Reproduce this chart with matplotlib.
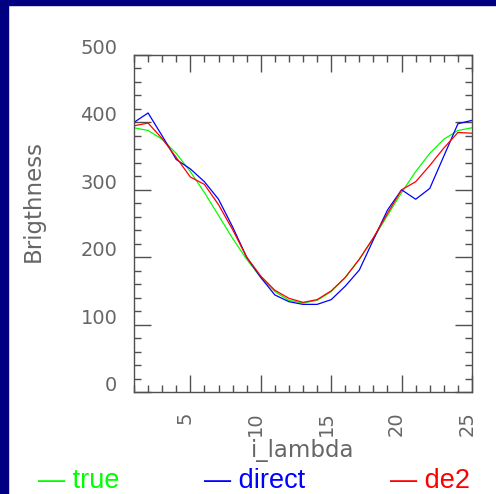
import matplotlib
matplotlib.use("Agg")
import matplotlib.pyplot as plt
from matplotlib.patches import Rectangle
from matplotlib.ticker import MultipleLocator
from matplotlib.transforms import ScaledTranslation

# ---------------------------------------------------------------- data
i_lambda = list(range(1, 26))
true_vals = [392, 388, 375, 354, 327, 296, 262, 228, 197, 170, 149, 136, 132,
             136, 149, 170, 197, 228, 262, 296, 327, 354, 375, 388, 392]
direct_vals = [400, 414, 380, 345, 331, 312, 286, 245, 200, 170, 144, 134, 130,
               130, 137, 157, 181, 226, 270, 300, 286, 302, 350, 398, 403]
de2_vals = [395, 399, 376, 348, 319, 308, 278, 241, 200, 172, 151, 139, 133,
            137, 150, 170, 197, 229, 265, 300, 312, 336, 362, 385, 384]

series_names = ["true", "direct", "de2"]
series_colors = ["#00ff00", "#0000ff", "#ff0000"]

# ---------------------------------------------------------------- figure
W, H = 496, 494
fig = plt.figure(figsize=(W / 100, H / 100), dpi=100)
fig.patch.set_facecolor("white")

# navy slide border (left and top)
fig.patches.append(Rectangle((0, 0), 8 / W, 1, transform=fig.transFigure,
                             color="#000080", zorder=0))
fig.patches.append(Rectangle((0, 1 - 5 / H), 1, 5 / H, transform=fig.transFigure,
                             color="#000080", zorder=0))

ax = fig.add_axes([134 / W, 1 - 392 / H, 338 / W, 337 / H])

for vals, col in zip([true_vals, direct_vals, de2_vals], series_colors):
    ax.plot(i_lambda, vals, color=col, lw=0.9)

ax.set_xlim(1, 25)
ax.set_ylim(0, 500)
ax.xaxis.set_major_locator(MultipleLocator(5))
ax.xaxis.set_minor_locator(MultipleLocator(1))
ax.yaxis.set_major_locator(MultipleLocator(100))
ax.yaxis.set_minor_locator(MultipleLocator(20))

fc = "#505050"
for s in ax.spines.values():
    s.set_color(fc)
    s.set_linewidth(1.0)

txt_col = "#666666"
ax.tick_params(which="both", direction="in", top=True, right=True, color=fc,
               labelcolor=txt_col, labelsize=14)
ax.tick_params(which="major", length=12, width=1.0)
ax.tick_params(which="minor", length=5, width=1.0)
ax.tick_params(axis="y", pad=12)
ax.tick_params(axis="x", pad=14)

for lbl in ax.get_xticklabels():
    lbl.set_rotation(90)
    lbl.set_va("top")
    lbl.set_ha("center")
    lbl.set_transform(lbl.get_transform() + ScaledTranslation(-0.05, 0, fig.dpi_scale_trans))
for lbl in ax.get_yticklabels():
    lbl.set_va("bottom")
    lbl.set_transform(lbl.get_transform() + ScaledTranslation(0, -0.03, fig.dpi_scale_trans))

ax.set_xlabel("i_lambda", fontsize=16.5, color=txt_col, labelpad=2)
ax.set_ylabel("Brigthness", fontsize=16.5, color=txt_col)
ax.yaxis.set_label_coords(45 / W, 1 - 201 / H, transform=fig.transFigure)

# legend as coloured text along the bottom
leg_x = [38, 204, 390]
for name, col, x in zip(series_names, series_colors, leg_x):
    fig.text(x / W, 1 - 488 / H, "\u2014 " + name, color=col, fontsize=19.5,
             family="Liberation Sans", ha="left", va="baseline")

fig.savefig("out.png", dpi=100)
